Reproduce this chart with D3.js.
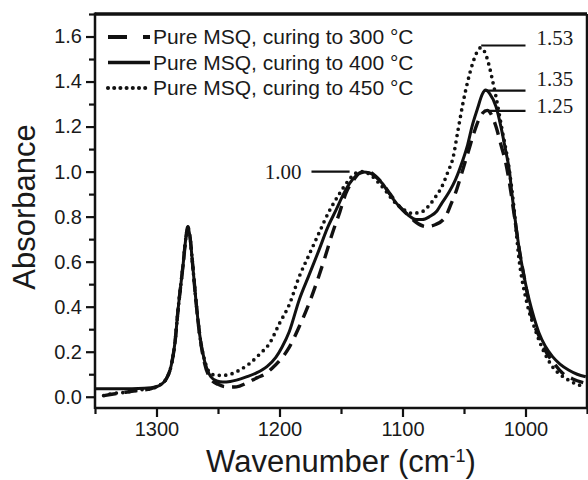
<!DOCTYPE html>
<html>
<head>
<meta charset="utf-8">
<script src="https://cdn.jsdelivr.net/npm/d3@7"></script>
<style>
body { margin: 0; background: #fff; }
svg { display: block; }
</style>
</head>
<body>
<svg width="588" height="480"></svg>
<script>
// 300 °C curing (dashed)
var wn300 = [1343, 1335, 1325, 1315, 1305, 1298, 1292, 1288, 1285, 1282.5, 1278.5, 1276, 1274.5, 1273, 1270.5, 1268, 1265, 1261, 1256, 1250, 1245, 1240, 1235, 1227, 1218, 1212, 1206, 1200, 1192, 1184, 1177, 1170, 1163, 1157, 1151, 1146, 1140, 1135, 1128, 1122, 1116, 1110, 1104, 1097, 1089, 1081, 1073, 1065, 1061, 1057, 1052, 1047, 1042, 1038, 1034.5, 1031, 1028, 1024, 1020, 1016, 1013, 1009, 1005, 1000, 995, 989, 984, 977, 970, 962, 951];
var abs300 = [0.005, 0.012, 0.02, 0.028, 0.035, 0.05, 0.08, 0.14, 0.24, 0.385, 0.58, 0.71, 0.755, 0.72, 0.58, 0.43, 0.28, 0.15, 0.08, 0.055, 0.045, 0.043, 0.044, 0.06, 0.085, 0.1, 0.127, 0.16, 0.22, 0.311, 0.4, 0.504, 0.62, 0.726, 0.82, 0.904, 0.96, 0.993, 1.0, 0.98, 0.945, 0.9, 0.855, 0.815, 0.775, 0.756, 0.765, 0.8, 0.85, 0.904, 0.99, 1.08, 1.17, 1.23, 1.262, 1.272, 1.255, 1.2, 1.12, 1.037, 0.948, 0.8, 0.652, 0.5, 0.356, 0.27, 0.207, 0.15, 0.105, 0.08, 0.06];

// 400 °C curing (solid)
var wn400 = [1350, 1330, 1310, 1300, 1292, 1288, 1285, 1282.5, 1278.5, 1276, 1274.5, 1273, 1270.5, 1268, 1265, 1261, 1256, 1251, 1246, 1240, 1235, 1227, 1219, 1210, 1203, 1198, 1192, 1184, 1176, 1168, 1161, 1154, 1148, 1143, 1138, 1132, 1127, 1122, 1116, 1111, 1105, 1100, 1095, 1089, 1084, 1078, 1072, 1068, 1062, 1057, 1051, 1047, 1043.5, 1039, 1035, 1032.5, 1029, 1024, 1020, 1016, 1013, 1011, 1008, 1005, 1001, 997, 993, 989, 984, 978, 972, 965, 958, 951];
var abs400 = [0.035, 0.035, 0.038, 0.045, 0.08, 0.14, 0.24, 0.385, 0.58, 0.71, 0.755, 0.72, 0.58, 0.43, 0.28, 0.16, 0.09, 0.07, 0.065, 0.068, 0.074, 0.088, 0.105, 0.135, 0.175, 0.22, 0.29, 0.43, 0.54, 0.65, 0.75, 0.83, 0.9, 0.948, 0.98, 0.998, 0.995, 0.978, 0.945, 0.904, 0.86, 0.83, 0.805, 0.787, 0.787, 0.8, 0.825, 0.86, 0.91, 0.963, 1.05, 1.12, 1.2, 1.28, 1.345, 1.362, 1.345, 1.289, 1.2, 1.09, 1.0, 0.9, 0.77, 0.652, 0.53, 0.43, 0.35, 0.283, 0.225, 0.178, 0.145, 0.119, 0.1, 0.089];

// 450 °C curing (dotted)
var wn450 = [1343, 1335, 1325, 1315, 1305, 1298, 1292, 1288, 1285, 1282.5, 1278.5, 1276, 1274.5, 1273, 1270.5, 1268, 1265, 1261, 1257, 1252, 1246, 1240, 1232, 1224, 1216, 1208, 1200, 1192, 1184, 1176, 1168, 1160, 1151, 1144, 1138, 1132, 1126, 1119, 1113, 1108, 1100, 1092, 1085, 1078, 1073, 1068, 1063, 1059, 1055, 1051, 1047, 1043, 1039.5, 1036.5, 1033, 1030, 1027, 1024, 1019, 1013.5, 1010, 1005, 999, 992, 985, 978, 971, 965, 958, 951];
var abs450 = [0.005, 0.015, 0.02, 0.03, 0.035, 0.05, 0.08, 0.14, 0.24, 0.385, 0.58, 0.71, 0.75, 0.72, 0.58, 0.43, 0.28, 0.165, 0.11, 0.095, 0.095, 0.1, 0.12, 0.149, 0.19, 0.238, 0.326, 0.41, 0.533, 0.63, 0.726, 0.82, 0.904, 0.96, 0.993, 1.0, 0.985, 0.948, 0.91, 0.874, 0.835, 0.815, 0.82, 0.852, 0.889, 0.933, 1.0, 1.06, 1.18, 1.3, 1.4, 1.48, 1.53, 1.55, 1.53, 1.48, 1.41, 1.333, 1.185, 1.02, 0.87, 0.6, 0.42, 0.296, 0.2, 0.133, 0.095, 0.074, 0.055, 0.044];

var legendLabels = ["Pure MSQ, curing to 300 °C", "Pure MSQ, curing to 400 °C", "Pure MSQ, curing to 450 °C"];

var xTicks = [1300, 1200, 1100, 1000];
var xMinorTicks = [1350, 1250, 1150, 1050, 950];
var yTicks = [0, 0.2, 0.4, 0.6, 0.8, 1.0, 1.2, 1.4, 1.6];
var yMinorTicks = [0.1, 0.3, 0.5, 0.7, 0.9, 1.1, 1.3, 1.5, 1.7];

// peak height call-outs
var peakLabels = ["1.00", "1.53", "1.35", "1.25"];
var peakLevel = [1.0, 1.56, 1.36, 1.27];
var peakFrom = [1174, 1036, 1034, 1034];
var peakTo = [1143, 1000, 1000, 1000];

var svg = d3.select("svg"),
    margin = {top: 14, right: 1, bottom: 72, left: 95},
    width = +svg.attr("width") - margin.left - margin.right,
    height = +svg.attr("height") - margin.top - margin.bottom,
    g = svg.append("g").attr("transform", "translate(" + margin.left + "," + margin.top + ")");

var x = d3.scaleLinear().domain([1350, 950]).range([0, width]);
var y = d3.scaleLinear().domain([-0.05, 1.70]).range([height, 0]);

var font = "'Liberation Sans', Arial, sans-serif";
var serif = "'Liberation Serif', 'Times New Roman', serif";

svg.append("defs").append("clipPath").attr("id", "plot")
    .append("rect").attr("width", width).attr("height", height);

// series
var series = [
  {wn: wn300, abs: abs300, dash: "13,8", w: 3.4, cap: "butt", legendDash: "19,16"},
  {wn: wn400, abs: abs400, dash: null, w: 3, cap: "butt", legendDash: null},
  {wn: wn450, abs: abs450, dash: "0,6.5", w: 3.7, cap: "round", legendDash: "0,6.2"}
];

var line = d3.line()
    .x(function(d) { return x(d[0]); })
    .y(function(d) { return y(d[1]); })
    .curve(d3.curveMonotoneX);

g.append("g").attr("clip-path", "url(#plot)")
  .selectAll("path")
  .data(series)
  .enter().append("path")
    .attr("fill", "none")
    .attr("stroke", "#111")
    .attr("stroke-width", function(d) { return d.w; })
    .attr("stroke-linecap", function(d) { return d.cap; })
    .attr("stroke-linejoin", "round")
    .attr("stroke-dasharray", function(d) { return d.dash; })
    .attr("d", function(d) { return line(d.wn.map(function(v, i) { return [v, d.abs[i]]; })); });

// axes
g.append("g")
    .attr("transform", "translate(0," + height + ")")
    .style("font-family", font)
    .style("font-size", "20px")
    .call(d3.axisBottom(x).tickValues(xTicks).tickSize(9).tickPadding(5).tickFormat(d3.format("d")));
g.append("g")
    .attr("transform", "translate(0," + height + ")")
    .call(d3.axisBottom(x).tickValues(xMinorTicks).tickSize(6).tickFormat(""));

g.append("g")
    .style("font-family", font)
    .style("font-size", "20px")
    .call(d3.axisLeft(y).tickValues(yTicks).tickSize(9).tickPadding(4).tickFormat(d3.format(".1f")));
g.append("g")
    .call(d3.axisLeft(y).tickValues(yMinorTicks).tickSize(6).tickFormat(""));

g.selectAll(".domain").remove();
g.selectAll(".tick line").attr("stroke", "#111").attr("stroke-width", 2.2);
g.selectAll(".tick text").attr("fill", "#1a1a1a");

// frame
g.append("line").attr("x1", 0).attr("x2", width).attr("y1", 0).attr("y2", 0)
    .attr("stroke", "#111").attr("stroke-width", 3.5);
g.append("line").attr("x1", width).attr("x2", width).attr("y1", 0).attr("y2", height)
    .attr("stroke", "#111").attr("stroke-width", 2.5);
g.append("line").attr("x1", 0).attr("x2", 0).attr("y1", -1.5).attr("y2", height + 1)
    .attr("stroke", "#111").attr("stroke-width", 2.5);
g.append("line").attr("x1", 0).attr("x2", width).attr("y1", height).attr("y2", height)
    .attr("stroke", "#111").attr("stroke-width", 2.5);

// axis titles
var xt = svg.append("text")
    .attr("x", margin.left + width / 2)
    .attr("y", 472)
    .attr("text-anchor", "middle")
    .style("font-family", font)
    .style("font-size", "31px")
    .attr("fill", "#1a1a1a")
    .text("Wavenumber (cm");
xt.append("tspan").attr("baseline-shift", "super").style("font-size", "18px").text("-1");
xt.append("tspan").text(")");

svg.append("text")
    .attr("transform", "translate(35,207) rotate(-90)")
    .attr("text-anchor", "middle")
    .style("font-family", font)
    .style("font-size", "31px")
    .attr("fill", "#1a1a1a")
    .text("Absorbance");

// legend
var legend = svg.append("g")
    .selectAll("g")
    .data(series)
    .enter().append("g")
    .attr("transform", function(d, i) { return "translate(108," + (37 + i * 25.5) + ")"; });

legend.append("line")
    .attr("x1", 0).attr("x2", 42)
    .attr("stroke", "#111")
    .attr("stroke-width", function(d) { return d.w + 0.4; })
    .attr("stroke-linecap", function(d) { return d.cap; })
    .attr("stroke-dasharray", function(d) { return d.legendDash; });

legend.append("text")
    .attr("x", 45)
    .attr("dy", "0.35em")
    .style("font-family", font)
    .style("font-size", "21px")
    .attr("fill", "#1a1a1a")
    .text(function(d, i) { return legendLabels[i]; });

// peak call-outs
var labelShift = [0, -8, -12, -5];
var callout = g.append("g").selectAll("g")
    .data(peakLabels)
    .enter().append("g");

callout.append("line")
    .attr("x1", function(d, i) { return x(peakFrom[i]); })
    .attr("x2", function(d, i) { return x(peakTo[i]); })
    .attr("y1", function(d, i) { return y(peakLevel[i]); })
    .attr("y2", function(d, i) { return y(peakLevel[i]); })
    .attr("stroke", "#111")
    .attr("stroke-width", 2.2);

callout.append("text")
    .attr("x", function(d, i) { return i === 0 ? x(peakFrom[i]) - 10 : x(peakTo[i]) + 11; })
    .attr("y", function(d, i) { return y(peakLevel[i]) + labelShift[i]; })
    .attr("dy", "0.35em")
    .attr("text-anchor", function(d, i) { return i === 0 ? "end" : "start"; })
    .style("font-family", serif)
    .style("font-size", "21px")
    .attr("fill", "#1a1a1a")
    .text(function(d) { return d; });
</script>
</body>
</html>
